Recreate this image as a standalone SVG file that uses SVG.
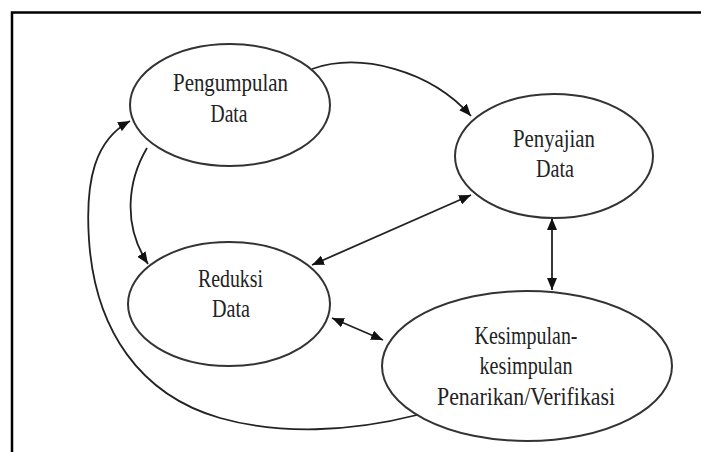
<svg xmlns="http://www.w3.org/2000/svg" width="701" height="452" viewBox="0 0 701 452">
<style>
.node ellipse{fill:#fff;stroke:#333;stroke-width:2}
.node text{font-family:"Liberation Serif","Times New Roman",serif;font-size:26px;fill:#222;text-anchor:middle}
.conn path{fill:none;stroke:#222;stroke-width:1.8}
.frame{stroke:#000;stroke-width:2.5;fill:none}
</style>
<defs>
<marker id="ah" viewBox="0 0 12 10" refX="12" refY="5" markerWidth="12" markerHeight="10" markerUnits="userSpaceOnUse" orient="auto-start-reverse">
<path d="M0,0 L12,5 L0,10 z" fill="#111"/>
</marker>
</defs>
<rect width="701" height="452" fill="#fff"/>
<path class="frame" d="M12,452 L12,12.5 L701,12.5"/>
<g id="connectors" class="conn">
<path d="M312,69 C360,52 430,70 471,116" marker-end="url(#ah)"/>
<path d="M147,148 C128,180 122,225 148,264" marker-end="url(#ah)"/>
<path d="M417,415 C350,432 280,435 220,418 C140,395 95,330 89,240 C85,180 95,140 130,121" marker-end="url(#ah)"/>
<path d="M312,265 L471,195" marker-start="url(#ah)" marker-end="url(#ah)"/>
<path d="M332,318 L383,340" marker-start="url(#ah)" marker-end="url(#ah)"/>
<path d="M552,218 L552,290" marker-start="url(#ah)" marker-end="url(#ah)"/>
</g>
<g id="pengumpulan" class="node">
<ellipse cx="230" cy="105" rx="100" ry="61"/>
<text x="230.5" y="91" textLength="115" lengthAdjust="spacingAndGlyphs">Pengumpulan</text>
<text x="229" y="122" textLength="37" lengthAdjust="spacingAndGlyphs">Data</text>
</g>
<g id="penyajian" class="node">
<ellipse cx="554" cy="156" rx="99" ry="62"/>
<text x="554" y="147" textLength="82" lengthAdjust="spacingAndGlyphs">Penyajian</text>
<text x="555" y="177" textLength="38" lengthAdjust="spacingAndGlyphs">Data</text>
</g>
<g id="reduksi" class="node">
<ellipse cx="229" cy="304" rx="101" ry="62"/>
<text x="230.5" y="287" textLength="65" lengthAdjust="spacingAndGlyphs">Reduksi</text>
<text x="231" y="317" textLength="38" lengthAdjust="spacingAndGlyphs">Data</text>
</g>
<g id="kesimpulan" class="node">
<ellipse cx="527" cy="366" rx="145" ry="75"/>
<text x="526" y="344" textLength="103" lengthAdjust="spacingAndGlyphs">Kesimpulan-</text>
<text x="526" y="374" textLength="93" lengthAdjust="spacingAndGlyphs">kesimpulan</text>
<text x="526" y="405" textLength="178" lengthAdjust="spacingAndGlyphs">Penarikan/Verifikasi</text>
</g>
</svg>
